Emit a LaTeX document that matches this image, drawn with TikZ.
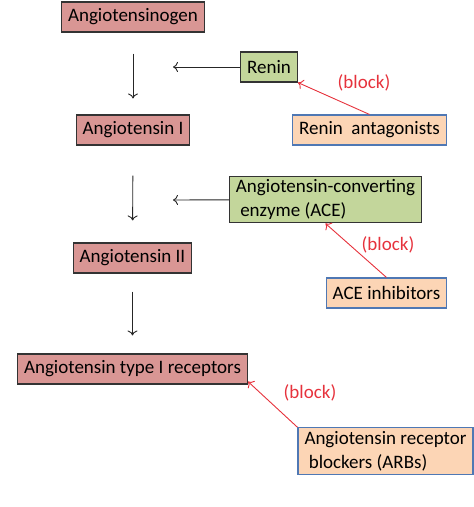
\documentclass[tikz,border=0pt]{standalone}
\usepackage{fontspec}
\setmainfont{Carlito}
\usetikzlibrary{positioning,arrows.meta}

\definecolor{substfill}{RGB}{217,150,148}
\definecolor{enzfill}{RGB}{195,214,155}
\definecolor{drugfill}{RGB}{252,213,181}
\definecolor{drugline}{RGB}{79,120,180}
\definecolor{blockred}{RGB}{230,50,60}

\begin{document}
\begin{tikzpicture}[x=1pt,y=-1pt,
    box/.style={draw=black!80,line width=1.1pt,inner xsep=6.5pt,minimum height=30pt,font=\fontsize{19}{24}\selectfont},
    subst/.style={box,fill=substfill},
    enz/.style={box,fill=enzfill},
    drug/.style={box,fill=drugfill,draw=drugline,align=left},
    flow/.style={-{To[length=5pt,width=10pt]},line width=0.9pt,black!85},
    blockarr/.style={-{To[length=5pt,width=10pt]},line width=0.9pt,blockred},
    blocklbl/.style={text=blockred,font=\fontsize{19}{24}\selectfont}]
  \useasboundingbox (0,0) rectangle (474,507);
  %substances
  \node[subst] (agen) at (133,17) {Angiotensinogen};
  \node[subst] (ang1) at (133,130) {Angiotensin I};
  \node[subst] (ang2) at (132.5,258) {Angiotensin II};
  \node[subst] (at1r) at (132.5,369) {Angiotensin type I receptors};
  %enzymes
  \node[enz] (renin) at (269,67) {Renin};
  \node[enz,align=left] (ace) at (325.5,199.5) {Angiotensin-converting\\\ enzyme (ACE)};
  %blockers
  \node[drug] (rant) at (369.5,130) {Renin\ \ antagonists};
  \node[drug] (acei) at (386.5,293) {ACE inhibitors};
  \node[drug] (arb) at (385.5,451) {Angiotensin receptor\\\ blockers (ARBs)};
  \node[blocklbl] (b1) at (364,83) {(block)};
  \node[blocklbl] (b2) at (388,245) {(block)};
  \node[blocklbl] (b3) at (310,393) {(block)};
  \coordinate (r1) at (173,67);
  \coordinate (a1) at (173,200);

  \draw[flow,shorten <=21pt,shorten >=16pt] (agen) -- (ang1);
  \draw[flow,shorten <=30pt,shorten >=22pt] (ang1) -- (ang2);
  \draw[flow,shorten <=18pt,shorten >=18pt] (ang2) -- (at1r);
  \draw[flow] (renin) -- (r1);
  \draw[flow] (ace) -- (a1);
  \draw[blockarr] (rant.north) -- (renin.south east);
  \draw[blockarr] (acei.north) -- (ace.south);
  \draw[blockarr] (arb.north west) -- ([yshift=3pt]at1r.south east);
\end{tikzpicture}
\end{document}
